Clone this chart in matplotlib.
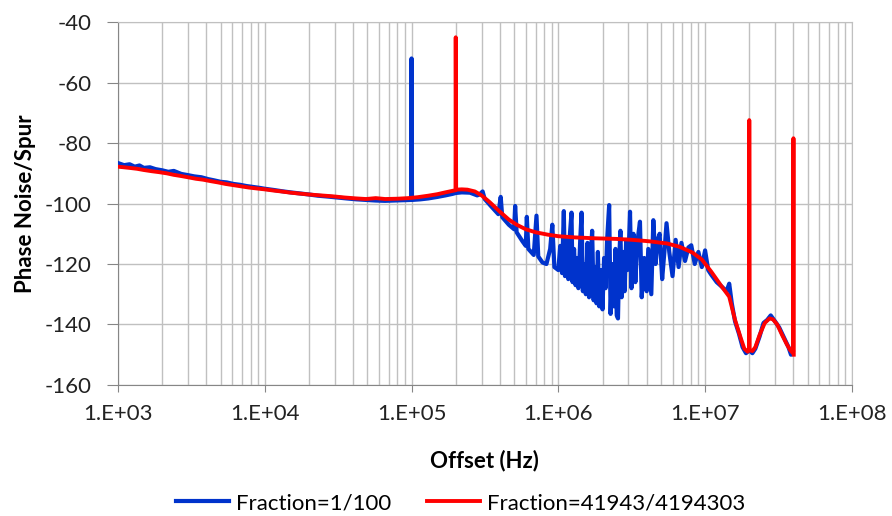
import numpy as np
import matplotlib
matplotlib.use('Agg')
import matplotlib.pyplot as plt
import matplotlib.ticker as plticker

# Fraction=1/100 (blue): offset frequency (Hz) and phase noise/spur (dBc/Hz)
blue_f = [1.0e3, 1.1e3, 1.2e3, 1.3e3, 1.4e3, 1.5e3, 1.65e3, 1.8e3, 2.0e3, 2.2e3,
          2.4e3, 2.7e3, 3.0e3, 3.3e3, 3.7e3, 4.1e3, 4.5e3, 5.0e3, 5.5e3, 6.1e3,
          6.8e3, 7.5e3, 8.3e3, 9.2e3, 1.0e4, 1.15e4, 1.3e4, 1.5e4, 1.7e4, 2.0e4,
          2.3e4, 2.7e4, 3.1e4, 3.6e4, 4.2e4, 4.9e4, 5.7e4, 6.6e4, 7.7e4, 9.0e4,
          9.93e4, 1.0e5, 1.007e5, 1.15e5, 1.3e5, 1.5e5, 1.7e5, 1.9e5, 2.0e5, 2.2e5,
          2.5e5, 2.8e5, 2.9e5, 3.05e5, 3.15e5, 3.5e5, 3.9e5, 4.05e5, 4.15e5, 4.6e5,
          5.0e5, 5.08e5, 5.2e5, 5.7e5, 6.0e5, 6.1e5, 6.25e5, 6.8e5, 7.1e5, 7.3e5,
          7.8e5, 8.3e5, 8.8e5, 9.1e5, 9.4e5,
          1.0e6, 1.03e6, 1.06e6, 1.09e6, 1.11e6, 1.14e6, 1.17e6, 1.2e6, 1.23e6, 1.25e6,
          1.28e6, 1.31e6, 1.34e6, 1.37e6, 1.41e6, 1.44e6, 1.47e6, 1.5e6, 1.54e6, 1.58e6,
          1.62e6, 1.66e6, 1.7e6, 1.74e6, 1.78e6, 1.82e6, 1.86e6, 1.9e6, 1.95e6, 2.0e6,
          2.05e6, 2.1e6, 2.15e6, 2.22e6, 2.27e6, 2.33e6, 2.39e6, 2.45e6, 2.5e6, 2.55e6,
          2.6e6, 2.65e6, 2.7e6, 2.77e6, 2.83e6, 2.9e6, 2.96e6, 3.02e6, 3.08e6, 3.15e6,
          3.25e6, 3.35e6, 3.45e6, 3.6e6, 3.7e6, 3.85e6, 4.0e6, 4.1e6, 4.3e6, 4.44e6,
          4.6e6, 4.75e6, 4.9e6, 5.1e6, 5.3e6, 5.46e6, 5.7e6, 6.0e6, 6.3e6, 6.6e6,
          6.9e6, 7.3e6, 7.7e6, 8.05e6, 8.5e6, 9.0e6, 9.5e6, 1.0e7, 1.05e7, 1.1e7,
          1.2e7, 1.3e7, 1.4e7, 1.46e7, 1.52e7, 1.6e7, 1.7e7, 1.8e7, 1.9e7, 2.0e7,
          2.1e7, 2.2e7, 2.35e7, 2.5e7, 2.65e7, 2.8e7, 3.0e7, 3.2e7, 3.5e7, 3.7e7,
          3.85e7, 3.95e7]
blue_db = [-86.6, -87.3, -87.0, -87.8, -87.4, -88.2, -88.0, -88.6, -89.0, -89.5,
           -89.2, -90.2, -90.6, -91.0, -91.3, -91.9, -92.3, -92.8, -93.0, -93.5,
           -93.8, -94.2, -94.5, -94.8, -95.1, -95.5, -95.9, -96.3, -96.6, -97.0,
           -97.4, -97.7, -98.0, -98.3, -98.6, -98.8, -99.0, -99.1, -99.0, -98.9,
           -98.8, -52.0, -98.8, -98.6, -98.3, -97.8, -97.3, -96.8, -96.5, -96.3,
           -96.4, -97.3, -97.0, -96.0, -98.5, -101.0, -103.5, -97.8, -104.5, -107.0,
           -108.5, -100.8, -109.5, -112.5, -114.0, -104.4, -115.0, -117.0, -104.0, -117.5,
           -119.5, -120.0, -115.0, -107.0, -121.0,
           -122.0, -114.0, -123.0, -102.5, -124.0, -112.0, -125.0, -110.0, -103.0, -126.0,
           -115.0, -127.0, -118.0, -128.0, -112.0, -103.0, -129.0, -120.0, -130.0, -113.0,
           -131.0, -118.0, -109.0, -132.0, -121.0, -133.0, -116.0, -134.0, -122.0, -135.0,
           -118.0, -128.0, -112.0, -100.5, -136.5, -120.0, -134.0, -115.0, -137.0, -138.0,
           -118.0, -109.0, -131.0, -116.0, -129.0, -112.0, -122.0, -115.0, -102.7, -128.0,
           -110.0, -126.0, -113.0, -106.0, -131.0, -118.0, -129.0, -115.0, -130.0, -105.5,
           -120.0, -112.0, -110.0, -125.0, -115.0, -106.5, -116.0, -124.0, -112.0, -121.0,
           -113.0, -119.0, -114.5, -113.8, -120.0, -116.0, -121.0, -115.5, -122.0, -123.5,
           -126.0, -127.5, -129.0, -126.5, -133.0, -139.0, -143.0, -147.5, -149.5, -148.5,
           -149.5, -148.0, -144.0, -139.5, -138.5, -137.0, -139.0, -141.0, -145.0, -147.5,
           -150.0, -149.0]

# Fraction=41943/4194303 (red)
red_f = [1.0e3, 1.1e3, 1.2e3, 1.35e3, 1.5e3, 1.7e3, 1.9e3, 2.15e3, 2.4e3, 2.7e3,
         3.0e3, 3.4e3, 3.8e3, 4.3e3, 4.8e3, 5.4e3, 6.1e3, 6.9e3, 7.8e3, 8.8e3,
         1.0e4, 1.15e4, 1.3e4, 1.5e4, 1.73e4, 2.0e4, 2.4e4, 2.9e4, 3.5e4, 4.2e4,
         4.9e4, 5.7e4, 6.6e4, 8.0e4, 9.5e4, 1.1e5, 1.3e5, 1.5e5, 1.7e5, 1.9e5,
         1.993e5, 2.0e5, 2.013e5, 2.2e5, 2.4e5, 2.7e5, 3.0e5, 3.4e5, 4.0e5, 4.6e5,
         5.2e5, 6.0e5, 7.0e5, 8.5e5, 1.0e6, 1.3e6, 1.8e6, 2.5e6, 3.2e6, 4.2e6,
         5.5e6, 6.7e6, 8.2e6, 9.5e6, 1.1e7, 1.3e7, 1.46e7, 1.6e7, 1.75e7, 1.85e7,
         1.95e7, 1.993e7, 2.0e7, 2.013e7, 2.1e7, 2.2e7, 2.35e7, 2.55e7, 2.75e7, 2.9e7,
         3.1e7, 3.35e7, 3.6e7, 3.8e7, 3.975e7, 4.0e7, 4.02e7]
red_db = [-87.8, -88.0, -88.2, -88.5, -88.9, -89.3, -89.6, -90.0, -90.5, -90.9,
          -91.3, -91.8, -92.1, -92.6, -93.0, -93.5, -93.9, -94.3, -94.7, -95.0,
          -95.3, -95.7, -96.0, -96.4, -96.7, -97.0, -97.3, -97.6, -98.0, -98.3,
          -98.5, -98.2, -98.5, -98.4, -98.2, -97.9, -97.4, -96.9, -96.3, -95.8,
          -95.6, -45.0, -95.4, -95.3, -95.4, -96.0, -97.3, -99.5, -102.7, -105.3,
          -107.0, -108.5, -109.5, -110.3, -110.8, -111.2, -111.5, -111.7, -112.0, -112.5,
          -113.2, -114.3, -116.2, -118.5, -122.5, -127.5, -130.8, -138.5, -144.5, -148.0,
          -149.0, -148.5, -72.4, -148.5, -148.8, -147.5, -143.5, -139.5, -138.0, -138.3,
          -140.0, -143.5, -146.5, -148.5, -149.5, -78.4, -150.0]

x_ticks = [1e3, 1e4, 1e5, 1e6, 1e7, 1e8]
y_ticks = [-160, -140, -120, -100, -80, -60, -40]

plt.rcParams['font.family'] = ['Lato', 'DejaVu Sans']
plt.rcParams['axes.unicode_minus'] = False
grid_color = '#c0c0c0'
axis_color = '#868686'

fig = plt.figure(figsize=(8.92, 5.16), dpi=100)
ax = fig.add_axes([0.1323, 0.254, 0.8227, 0.703])

ax.plot(blue_f, blue_db, color='#0033cc', linewidth=3.0, solid_joinstyle='round', label='Fraction=1/100', zorder=3)
ax.plot(red_f, red_db, color='#ff0000', linewidth=2.8, solid_joinstyle='round', label='Fraction=41943/4194303', zorder=4)

ax.set_xscale('log')
ax.set_xlim(1e3, 1e8)
ax.set_ylim(-160, -40)
ax.set_xticks(x_ticks)
ax.xaxis.set_major_formatter(plticker.FuncFormatter(lambda v, p: '1.E+%02d' % int(round(np.log10(v)))))
ax.xaxis.set_minor_locator(plticker.LogLocator(base=10, subs=np.arange(2, 10), numticks=20))
ax.xaxis.set_minor_formatter(plticker.NullFormatter())
ax.set_yticks(y_ticks)

ax.grid(True, which='major', color=grid_color, linewidth=1.0)
ax.grid(True, which='minor', axis='x', color=grid_color, linewidth=1.0)
ax.set_axisbelow(True)

for s in ax.spines.values():
    s.set_color(grid_color)
ax.spines['left'].set_color(axis_color)
ax.spines['bottom'].set_color(axis_color)

ax.tick_params(axis='x', which='major', direction='out', length=5, color=axis_color, pad=9, labelsize=16, labelcolor='#222222')
ax.tick_params(axis='x', which='minor', length=0)
ax.tick_params(axis='y', which='major', direction='out', length=8, color=axis_color, pad=11, labelsize=16, labelcolor='#222222')

ax.set_xlabel('Offset (Hz)', fontsize=16, fontweight='bold', labelpad=18)
ax.set_ylabel('Phase Noise/Spur', fontsize=16, fontweight='bold', labelpad=6)

fig.legend(loc='center', bbox_to_anchor=(0.516, 0.025), ncol=2, frameon=False, fontsize=16,
           handlelength=2.4, handletextpad=0.3, columnspacing=1.6)

plt.savefig('out.png', dpi=100)
plt.close()
